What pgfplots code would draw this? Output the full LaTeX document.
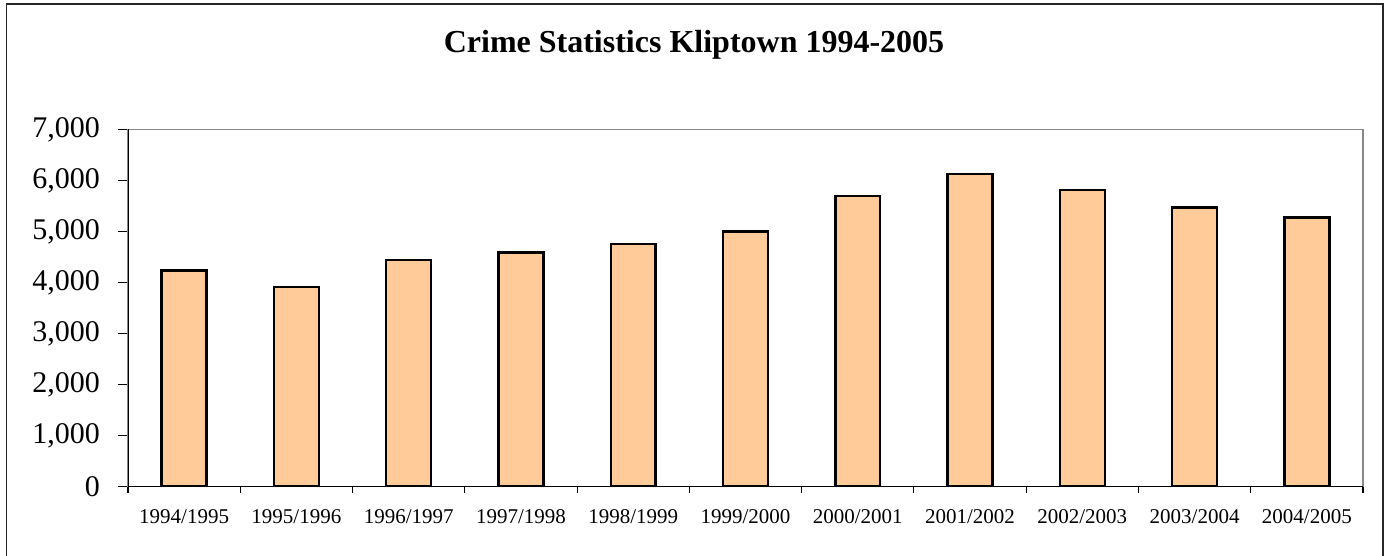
\documentclass[border=0pt]{standalone}
\usepackage{fontspec}
\setmainfont{Liberation Serif}
\usepackage{pgfplots}
\pgfplotsset{compat=1.18}
\definecolor{barfill}{HTML}{FFCC99}
\definecolor{framegray}{HTML}{878787}
\begin{document}
\begin{tikzpicture}
\useasboundingbox (0,0) rectangle (1042.5pt,417pt);
\draw[line width=1.1pt, black!85] (4.9pt,-5pt) -- (4.9pt,414pt) -- (1037.25pt,414pt) -- (1037.25pt,-5pt);
\node[anchor=base, inner sep=0pt] at (520.5pt,377.5pt) {\fontsize{24}{28}\selectfont\bfseries Crime Statistics Kliptown 1994-2005};
\begin{axis}[
  at={(96pt,52pt)}, anchor=south west,
  scale only axis, width=926.25pt, height=267.9pt,
  xmin=-0.5, xmax=10.5, ymin=0, ymax=7000,
  ybar, bar width=0.4,
  axis line style={framegray, line width=1.1pt},
  tick align=outside,
  xtick pos=bottom, ytick pos=left,
  xtick={0,...,10},
  xticklabels={1994/1995,1995/1996,1996/1997,1997/1998,1998/1999,1999/2000,2000/2001,2001/2002,2002/2003,2003/2004,2004/2005},
  xtick style={draw=none},
  extra x ticks={-0.5,0.5,1.5,2.5,3.5,4.5,5.5,6.5,7.5,8.5,9.5,10.5},
  extra x tick labels={},
  extra x tick style={major tick length=4.5pt, xtick style={draw=black}},
  ytick={0,1000,...,7000},
  major tick length=7.5pt,
  major tick style={black, line width=0.8pt},
  yticklabel style={font=\fontsize{22.5}{24}\selectfont, xshift=-10pt},
  xticklabel style={font=\fontsize{15.75}{18}\selectfont, yshift=-6pt},
  /pgf/number format/.cd, 1000 sep={,}, assume math mode=true,
]
\addplot[fill=barfill, draw=black, line width=1.8pt] coordinates {
(0,4233) (1,3908) (2,4442) (3,4586) (4,4750) (5,4997) (6,5697) (7,6128) (8,5814) (9,5467) (10,5271)
};
\draw[black, line width=0.9pt] (rel axis cs:0,1) -- (rel axis cs:0,0) -- (rel axis cs:1,0);
\end{axis}
\end{tikzpicture}
\end{document}
